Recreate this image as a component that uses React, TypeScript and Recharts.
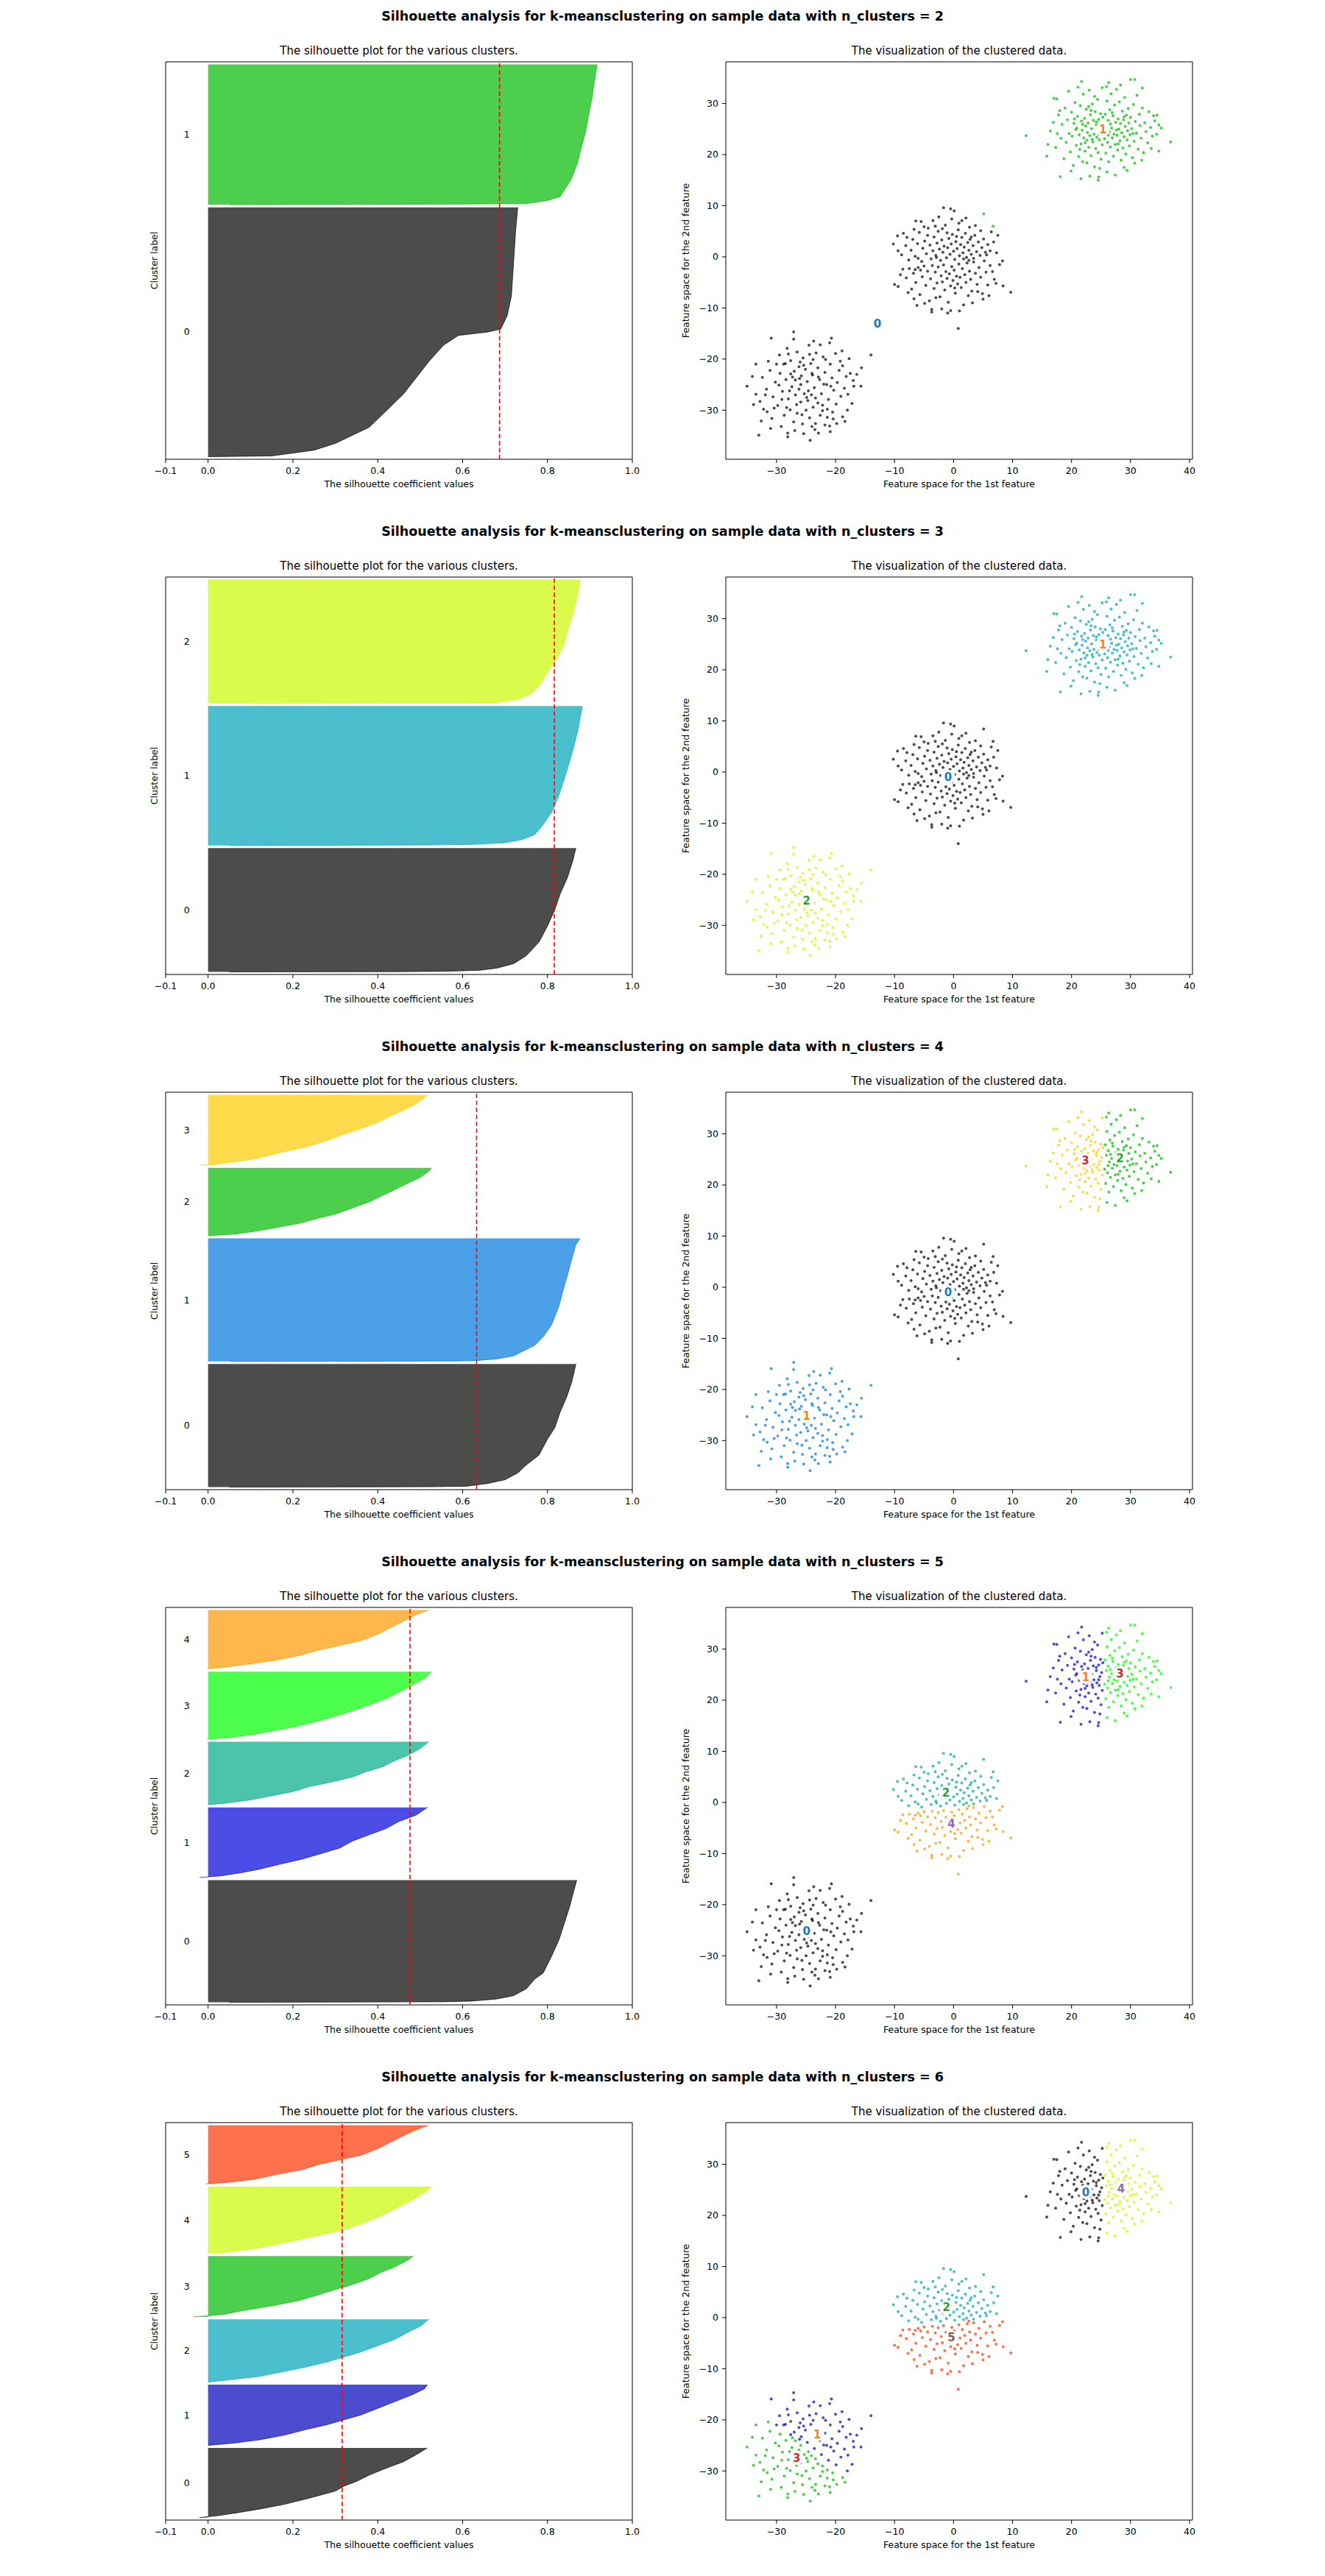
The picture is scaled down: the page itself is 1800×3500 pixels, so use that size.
import React from 'react';
import {
  ComposedChart, Area, XAxis, YAxis, ReferenceLine, ReferenceArea, ReferenceDot,
  ScatterChart, Scatter,
} from 'recharts';

const FONT = '"DejaVu Sans", sans-serif';

// ---- sample points (x, y pairs), split where the k-means runs cut the blobs ----
// upper-right blob, left half
const tlPts = [
  12.3, 23.7, 15.8, 19.7, 16.0, 22.0, 17.0, 31.0, 17.5, 30.9, 18.1, 15.7, 21.6, 15.3, 23.1, 15.8, 24.5, 15.0, 21.7, 34.3, 24.6, 15.6,
  16.4, 24.6, 16.9, 26.3, 17.3, 21.4, 17.8, 27.8, 18.2, 23.2, 18.4, 25.9, 18.7, 19.2, 18.9, 29.1, 19.1, 22.4, 19.3, 26.8,
  19.6, 24.1, 19.8, 20.5, 20.0, 28.3, 20.1, 23.6, 20.3, 17.9, 20.4, 26.1, 20.6, 30.2, 20.8, 21.8, 20.9, 25.2, 21.0, 27.5,
  21.2, 19.6, 21.3, 23.9, 21.5, 29.6, 21.6, 22.1, 21.7, 26.6, 21.8, 24.8, 21.9, 18.6, 22.0, 31.8, 22.1, 23.3, 22.2, 27.1,
  22.3, 20.7, 22.4, 25.6, 22.5, 28.9, 22.6, 22.8, 22.7, 24.3, 22.8, 26.2, 22.9, 21.4, 23.0, 32.6, 23.1, 23.7, 23.2, 27.8,
  23.3, 19.8, 23.4, 25.1, 23.5, 29.9, 23.6, 22.5, 23.7, 26.7, 23.8, 24.0, 23.9, 17.6, 24.0, 28.4, 24.1, 21.2, 24.2, 25.8,
  24.3, 23.4, 24.4, 30.8, 24.5, 20.4, 24.6, 26.9, 24.7, 22.9, 24.8, 24.6, 24.9, 28.0, 25.0, 19.1, 25.1, 25.4, 25.2, 33.1,
  25.2, 21.9, 25.3, 27.3, 19.5, 32.4, 18.0, 28.6, 20.7, 24.9, 21.4, 21.0, 22.6, 18.4, 23.9, 31.4, 24.8, 17.3, 21.1, 33.2,
  19.9, 16.8, 17.6, 24.1, 22.9, 29.4, 23.5, 23.0, 24.2, 26.4, 21.9, 25.9, 22.3, 22.3, 20.5, 27.0, 24.6, 24.0, 23.3, 28.6,
];
// upper-right blob, right half
const trPts = [
  36.8, 22.5, 34.8, 25.8, 34.8, 20.7, 30.0, 34.7, 30.7, 34.7, 26.3, 34.1, 32.0, 33.0, 33.9, 27.6, 34.5, 27.7, 33.5, 21.2, 28.9, 17.5, 30.7, 18.3,
  25.6, 23.1, 25.7, 27.9, 25.8, 20.3, 25.9, 25.8, 26.0, 30.5, 26.1, 22.4, 26.2, 26.7, 26.3, 18.6, 26.4, 24.5, 26.5, 28.8,
  26.6, 21.5, 26.7, 31.9, 26.8, 25.2, 26.9, 23.3, 27.0, 27.6, 27.1, 19.7, 27.2, 24.0, 27.3, 29.7, 27.4, 22.0, 27.5, 26.3,
  27.6, 32.8, 27.7, 23.8, 27.8, 20.9, 27.9, 27.0, 28.0, 25.0, 28.1, 30.3, 28.2, 22.7, 28.3, 26.1, 28.4, 18.9, 28.5, 24.3,
  28.6, 28.5, 28.7, 21.3, 28.8, 26.8, 28.9, 23.5, 29.0, 31.2, 29.1, 25.5, 29.2, 20.1, 29.3, 27.7, 29.4, 22.9, 29.5, 24.7,
  29.6, 29.0, 29.7, 26.2, 29.8, 21.7, 29.9, 23.9, 30.0, 27.3, 30.2, 25.1, 30.3, 19.4, 30.5, 29.8, 30.6, 22.6, 30.8, 26.5,
  31.0, 24.2, 31.1, 31.6, 31.3, 21.1, 31.5, 27.9, 31.6, 25.7, 31.8, 23.2, 32.0, 29.1, 32.2, 20.4, 32.4, 26.2, 32.6, 24.5,
  32.9, 22.3, 33.1, 28.4, 33.4, 25.3, 33.7, 23.6, 34.1, 26.6, 34.4, 24.0, 35.2, 25.2, 26.0, 16.6, 27.4, 16.0, 25.9, 33.3,
  28.3, 33.6, 29.4, 16.9, 31.9, 18.9, 27.6, 24.8, 26.6, 26.0, 28.9, 27.4, 26.2, 23.8, 27.9, 22.1, 30.4, 24.1, 26.9, 28.2,
];
// middle blob, upper part
const mtPts = [
  -1.7, 9.6, -0.5, 9.4, 0.1, 9.0, 6.4, 4.9, 7.5, 4.2, 3.7, 6.1, -10.2, 2.5, -9.5, 4.1, -8.5, 4.6, -6.4, 7.0, -5.5, 6.9, -3.5, 7.1, -2.5, 7.8, 1.4, 7.1,
  -8.8, 0.4, -8.1, 2.2, -7.6, -0.6, -7.2, 1.3, -6.9, 3.4, -6.5, 0.1, -6.1, 2.6, -5.8, 4.8, -5.4, -0.9, -5.2, 1.7,
  -4.9, 3.1, -4.6, 0.6, -4.3, 5.6, -4.0, 2.3, -3.8, -0.4, -3.5, 1.2, -3.3, 3.9, -3.0, 0.3, -2.8, 2.7, -2.6, 5.0,
  -2.4, 1.5, -2.2, -0.7, -2.0, 3.3, -1.8, 0.9, -1.6, 2.1, -1.4, 6.2, -1.2, -0.2, -1.0, 1.8, -0.8, 3.6, -0.6, 0.5,
  -0.4, 2.5, -0.2, 4.4, 0.0, 1.1, 0.2, -0.5, 0.4, 3.0, 0.6, 1.6, 0.8, 5.3, 1.0, 0.2, 1.2, 2.4, 1.4, 3.8,
  1.6, 0.8, 1.8, 1.9, 2.0, 4.6, 2.2, -0.1, 2.4, 2.8, 2.6, 1.3, 2.8, 3.4, 3.0, 0.5, 3.3, 2.2, 3.6, 4.2,
  3.9, 1.0, 4.2, 2.9, 4.5, 0.3, 4.8, 1.8, 5.1, 3.5, 5.4, 0.9, 5.8, 2.4, 6.2, 1.2, 6.8, 2.9, 7.3, 0.8,
  -7.9, 3.8, -3.1, 6.0, 0.9, 6.6, 2.7, 5.8, 4.6, 5.1, -6.0, -0.3, -1.1, 4.7, 1.7, -0.4, -4.4, 4.2, 5.6, 0.4,
  -9.4, 1.2, -2.9, -0.1, 3.4, -0.3, -0.3, 7.4, 2.1, 7.6, -5.0, 5.9, 0.5, 4.0, -1.9, 5.5, 3.0, 3.9, -6.7, 5.4,
];
// middle blob, lower part
const mbPts = [
  8.3, -0.8, 9.7, -6.9, 8.4, -5.7, 6.9, -4.4, 0.8, -14.0, -3.7, -10.8, -3.7, -10.3, -0.5, -10.5, -6.2, -9.5, -6.7, -8.2, -10.0, -5.4, -9.4, -5.8,
  -8.6, -2.4, -8.0, -4.1, -7.5, -2.3, -7.1, -6.3, -6.8, -3.2, -6.4, -5.0, -6.0, -2.1, -5.7, -7.4, -5.3, -3.9, -5.0, -1.8,
  -4.7, -5.6, -4.4, -2.8, -4.1, -8.6, -3.9, -4.3, -3.6, -1.7, -3.3, -6.2, -3.1, -3.0, -2.8, -5.1, -2.6, -2.0, -2.3, -7.8,
  -2.1, -3.7, -1.9, -4.9, -1.7, -1.6, -1.5, -6.5, -1.3, -2.9, -1.1, -4.2, -0.9, -8.9, -0.7, -3.3, -0.5, -5.7, -0.3, -1.9,
  -0.1, -4.6, 0.1, -2.6, 0.3, -7.1, 0.5, -3.8, 0.7, -5.3, 0.9, -1.4, 1.1, -4.0, 1.3, -6.0, 1.5, -2.3, 1.7, -9.4,
  1.9, -3.5, 2.1, -5.0, 2.3, -1.2, 2.5, -7.6, 2.7, -2.8, 2.9, -4.4, 3.1, -6.7, 3.4, -1.0, 3.7, -3.2, 4.0, -5.4,
  4.3, -2.1, 4.6, -4.0, 4.9, -7.2, 5.2, -0.8, 5.5, -3.0, 5.8, -5.5, 6.2, -1.7, 6.6, -2.9, 7.2, -5.2, 7.8, -1.5,
  -7.7, -7.0, -4.9, -9.1, -2.0, -10.2, 1.0, -10.6, 3.2, -9.0, -9.0, -3.5, 5.0, -8.3, 2.6, -0.7, -6.5, -2.5, 0.2, -6.1,
  -1.0, -11.0, 4.1, -6.8, -3.0, -8.0, 6.0, -7.6, -5.6, -2.6,
];
// two far points of the middle blob (taken by the upper cluster when k = 2)
const mxPts = [5.1, 8.4, 6.7, 6.0];
// lower-left blob, upper-right part
const buPts = [
  -27.1, -14.7, -27.1, -16.1, -30.9, -15.9, -20.7, -15.9, -14.0, -19.2, -15.6, -21.7, -15.7, -25.3, -16.9, -25.3, -17.2, -28.7, -17.7, -19.9, -18.9, -18.4,
  -29.5, -19.2, -28.8, -21.0, -28.2, -17.9, -27.6, -20.3, -27.0, -22.4, -26.5, -18.6, -26.2, -21.5, -25.8, -23.3, -25.5, -19.8, -25.1, -22.0,
  -24.8, -24.4, -24.5, -17.3, -24.2, -20.9, -23.9, -23.1, -23.6, -25.6, -23.3, -18.8, -23.0, -21.7, -22.7, -24.0, -22.4, -26.8, -22.1, -19.6,
  -21.8, -22.6, -21.5, -25.0, -21.2, -27.9, -20.9, -21.0, -20.6, -23.7, -20.3, -26.1, -20.0, -18.9, -19.7, -24.6, -19.4, -22.2, -19.1, -27.3,
  -18.8, -21.3, -18.5, -25.7, -18.2, -23.4, -17.9, -26.9, -17.5, -22.8, -17.0, -24.2, -16.4, -23.0, -23.7, -16.5, -22.6, -17.2, -21.0, -16.8,
  -24.0, -22.8, -22.9, -23.5, -23.8, -20.1, -25.4, -21.2, -26.0, -20.6, -28.0, -19.0, -22.0, -24.9, -20.8, -25.3, -19.9, -28.8, -24.4, -19.1,
  -21.7, -20.1, -19.2, -20.4, -18.0, -30.0, -30.0, -21.0, -28.5, -20.9, -27.6, -22.9, -26.1, -23.8,
];
// lower-left blob, lower-left part
const bdPts = [
  -35.0, -25.3, -33.0, -34.9, -28.1, -35.2, -28.1, -34.5, -24.3, -35.9, -31.0, -33.6, -23.5, -33.8, -18.4, -32.2, -18.8, -31.3, -33.5, -26.9, -33.5, -21.0, -32.2, -29.8, -31.6, -30.3,
  -26.8, -24.1, -25.9, -25.0, -24.6, -26.2, -23.4, -27.6, -22.2, -29.0, -21.4, -29.8, -20.5, -30.4,
  -32.4, -23.6, -31.7, -25.9, -31.1, -22.2, -30.6, -27.4, -30.2, -24.5, -29.8, -29.1, -29.4, -22.8, -29.0, -26.3, -28.7, -31.0, -28.4, -24.0,
  -28.0, -27.8, -27.7, -29.9, -27.4, -25.4, -27.1, -32.3, -26.8, -27.0, -26.5, -30.6, -26.2, -25.9, -25.9, -28.4, -25.6, -32.7, -25.3, -26.8,
  -25.0, -30.0, -24.7, -28.1, -24.4, -31.5, -24.1, -27.0, -23.8, -29.4, -23.4, -32.6, -23.0, -28.6, -22.6, -31.0, -22.2, -30.1, -21.8, -32.9,
  -21.4, -31.4, -21.0, -33.1, -20.4, -31.7, -19.8, -32.6, -32.8, -28.3, -31.4, -20.4, -29.2, -33.2, -26.9, -34.0,
  -30.8, -31.6, -29.6, -25.1, -27.3, -23.5, -25.4, -34.6, -24.0, -33.2, -22.9, -34.5, -20.9, -34.2, -34.1, -23.4,
  -33.9, -28.9, -32.6, -32.1, -31.9, -27.0, -30.4, -29.6, -29.1, -27.9, -28.3, -29.5, -27.8, -26.2, -26.6, -28.9, -25.7, -30.9, -24.9, -27.5,
];

const blobs = [tlPts, trPts, mtPts, mbPts, mxPts, buPts, bdPts];

// cluster label of each blob part, per run
const labelsK2 = [1, 1, 0, 0, 1, 0, 0];
const labelsK3 = [1, 1, 0, 0, 0, 2, 2];
const labelsK4 = [3, 2, 0, 0, 0, 1, 1];
const labelsK5 = [1, 3, 2, 4, 2, 0, 0];
const labelsK6 = [0, 4, 2, 5, 2, 1, 3];

// cluster centres
const centersK2 = [[-12.9, -13.05], [25.3, 25.0]];
const centersK3 = [[-0.93, -0.96], [25.3, 25.0], [-24.9, -25.1]];
const centersK4 = [[-0.93, -0.96], [-24.9, -25.1], [28.2, 25.3], [22.35, 24.8]];
const centersK5 = [[-24.9, -25.1], [22.4, 24.6], [-1.3, 1.9], [28.2, 25.3], [-0.36, -4.1]];
const centersK6 = [[22.4, 24.6], [-23.1, -22.8], [-1.2, 2.0], [-26.6, -27.4], [28.4, 25.3], [-0.36, -3.9]];

// silhouette: cluster sizes, average score, sorted values as [fraction of cluster, value]
const sizesK2 = [960, 540];
const sizesK3 = [480, 540, 480];
const sizesK4 = [480, 480, 265, 275];
const sizesK5 = [480, 275, 248, 265, 232];
const sizesK6 = [275, 240, 248, 240, 265, 232];
const avgScores = [0.687, 0.816, 0.633, 0.476, 0.316];

const silK2 = [
  [[0, 0.0], [0.003, 0.15], [0.026, 0.25], [0.053, 0.3], [0.118, 0.38], [0.184, 0.42], [0.25, 0.46], [0.315, 0.49], [0.381, 0.52], [0.447, 0.555], [0.486, 0.59], [0.5, 0.66], [0.512, 0.69], [0.565, 0.705], [0.644, 0.715], [0.775, 0.72], [0.907, 0.725], [1, 0.73]],
  [[0, 0.05], [0.004, 0.6], [0.008, 0.75], [0.016, 0.77], [0.03, 0.8], [0.058, 0.83], [0.105, 0.84], [0.175, 0.855], [0.29, 0.87], [0.41, 0.88], [0.52, 0.89], [0.64, 0.897], [0.76, 0.905], [0.87, 0.91], [1, 0.917]],
];
const silK3 = [
  [[0, 0.05], [0.002, 0.45], [0.005, 0.56], [0.013, 0.64], [0.03, 0.68], [0.066, 0.72], [0.13, 0.75], [0.24, 0.78], [0.37, 0.8], [0.5, 0.817], [0.63, 0.83], [0.76, 0.847], [0.9, 0.86], [1, 0.867]],
  [[0, 0.05], [0.003, 0.52], [0.007, 0.62], [0.019, 0.7], [0.042, 0.74], [0.078, 0.77], [0.15, 0.79], [0.24, 0.81], [0.36, 0.827], [0.48, 0.84], [0.6, 0.852], [0.71, 0.862], [0.83, 0.872], [1, 0.882]],
  [[0, 0.1], [0.003, 0.62], [0.008, 0.68], [0.034, 0.73], [0.074, 0.76], [0.14, 0.78], [0.25, 0.8], [0.35, 0.82], [0.46, 0.837], [0.59, 0.847], [0.72, 0.86], [0.86, 0.87], [1, 0.877]],
];
const silK4 = [
  [[0, 0.05], [0.003, 0.52], [0.007, 0.61], [0.03, 0.66], [0.06, 0.7], [0.115, 0.73], [0.18, 0.75], [0.26, 0.78], [0.39, 0.8], [0.48, 0.817], [0.61, 0.83], [0.73, 0.845], [0.85, 0.857], [1, 0.867]],
  [[0, 0.05], [0.003, 0.58], [0.007, 0.63], [0.02, 0.68], [0.045, 0.72], [0.08, 0.74], [0.13, 0.77], [0.2, 0.79], [0.3, 0.81], [0.45, 0.827], [0.58, 0.837], [0.7, 0.847], [0.83, 0.857], [0.95, 0.867], [1, 0.877]],
  [[0, 0.0], [0.009, 0.02], [0.03, 0.07], [0.076, 0.12], [0.12, 0.16], [0.19, 0.22], [0.26, 0.26], [0.32, 0.3], [0.41, 0.34], [0.5, 0.38], [0.59, 0.41], [0.68, 0.44], [0.77, 0.47], [0.86, 0.5], [0.95, 0.52], [1, 0.527]],
  [[0, -0.02], [0.013, 0.02], [0.048, 0.06], [0.09, 0.11], [0.18, 0.17], [0.26, 0.23], [0.35, 0.28], [0.44, 0.32], [0.52, 0.36], [0.61, 0.4], [0.7, 0.43], [0.78, 0.46], [0.87, 0.49], [0.96, 0.51], [1, 0.517]],
];
const silK5 = [
  [[0, 0.05], [0.004, 0.55], [0.01, 0.62], [0.027, 0.68], [0.054, 0.72], [0.11, 0.75], [0.19, 0.77], [0.24, 0.79], [0.38, 0.81], [0.51, 0.827], [0.65, 0.84], [0.78, 0.852], [0.91, 0.862], [1, 0.869]],
  [[0, -0.02], [0.023, 0.03], [0.07, 0.08], [0.117, 0.12], [0.19, 0.17], [0.26, 0.22], [0.33, 0.26], [0.42, 0.31], [0.52, 0.34], [0.61, 0.38], [0.7, 0.42], [0.8, 0.45], [0.89, 0.49], [1, 0.517]],
  [[0, 0.0], [0.026, 0.04], [0.078, 0.1], [0.13, 0.14], [0.21, 0.2], [0.29, 0.24], [0.36, 0.29], [0.44, 0.34], [0.52, 0.37], [0.6, 0.41], [0.7, 0.44], [0.78, 0.47], [0.89, 0.5], [1, 0.52]],
  [[0, -0.003], [0.024, 0.05], [0.073, 0.11], [0.12, 0.15], [0.19, 0.21], [0.27, 0.26], [0.36, 0.31], [0.44, 0.35], [0.53, 0.39], [0.63, 0.43], [0.73, 0.46], [0.83, 0.49], [0.92, 0.515], [1, 0.527]],
  [[0, -0.003], [0.033, 0.04], [0.088, 0.1], [0.15, 0.16], [0.24, 0.22], [0.32, 0.26], [0.4, 0.31], [0.48, 0.36], [0.59, 0.4], [0.7, 0.43], [0.81, 0.46], [0.92, 0.49], [1, 0.52]],
];
const silK6 = [
  [[0, -0.02], [0.024, 0.02], [0.07, 0.07], [0.12, 0.12], [0.19, 0.18], [0.28, 0.24], [0.38, 0.3], [0.45, 0.32], [0.52, 0.35], [0.61, 0.38], [0.71, 0.42], [0.8, 0.46], [0.9, 0.49], [1, 0.517]],
  [[0, 0.0], [0.038, 0.06], [0.09, 0.12], [0.17, 0.18], [0.26, 0.23], [0.34, 0.28], [0.42, 0.32], [0.5, 0.36], [0.61, 0.4], [0.72, 0.44], [0.83, 0.48], [0.93, 0.51], [1, 0.517]],
  [[0, 0.0], [0.036, 0.05], [0.09, 0.12], [0.17, 0.18], [0.24, 0.23], [0.32, 0.28], [0.4, 0.32], [0.48, 0.36], [0.58, 0.4], [0.68, 0.44], [0.79, 0.47], [0.89, 0.5], [1, 0.52]],
  [[0, -0.035], [0.016, 0.0], [0.043, 0.04], [0.1, 0.08], [0.18, 0.15], [0.26, 0.21], [0.34, 0.25], [0.45, 0.3], [0.53, 0.34], [0.63, 0.38], [0.74, 0.41], [0.82, 0.44], [0.93, 0.47], [1, 0.484]],
  [[0, -0.005], [0.024, 0.05], [0.073, 0.11], [0.12, 0.15], [0.2, 0.21], [0.27, 0.26], [0.34, 0.31], [0.44, 0.36], [0.54, 0.4], [0.63, 0.43], [0.73, 0.46], [0.83, 0.49], [0.93, 0.515], [1, 0.527]],
  [[0, -0.005], [0.027, 0.05], [0.08, 0.11], [0.16, 0.16], [0.24, 0.22], [0.33, 0.26], [0.41, 0.31], [0.49, 0.36], [0.6, 0.4], [0.71, 0.43], [0.82, 0.46], [0.92, 0.49], [1, 0.52]],
];

// nipy_spectral colours for each run
const colorsK2 = ['#000000', '#00bb00'];
const colorsK3 = ['#000000', '#00a4bb', '#ccf900'];
const colorsK4 = ['#000000', '#0077dd', '#00bb00', '#ffcc00'];
const colorsK5 = ['#000000', '#0000dd', '#00aa88', '#00ff00', '#ff9900'];
const colorsK6 = ['#000000', '#0000bb', '#00a4bb', '#00bb00', '#ccf900', '#ff3300'];
const tab10 = ['#1f77b4', '#ff7f0e', '#2ca02c', '#d62728', '#9467bd', '#8c564b'];

const silTicks = [-0.1, 0, 0.2, 0.4, 0.6, 0.8, 1.0];
const featXTicks = [-30, -20, -10, 0, 10, 20, 30, 40];
const featYTicks = [-30, -20, -10, 0, 10, 20, 30];

const runs = [
  { k: 2, sizes: sizesK2, sil: silK2, colors: colorsK2, labels: labelsK2, centers: centersK2 },
  { k: 3, sizes: sizesK3, sil: silK3, colors: colorsK3, labels: labelsK3, centers: centersK3 },
  { k: 4, sizes: sizesK4, sil: silK4, colors: colorsK4, labels: labelsK4, centers: centersK4 },
  { k: 5, sizes: sizesK5, sil: silK5, colors: colorsK5, labels: labelsK5, centers: centersK5 },
  { k: 6, sizes: sizesK6, sil: silK6, colors: colorsK6, labels: labelsK6, centers: centersK6 },
];

const minus = (s: string) => s.replace('-', '\u2212');
const tickStyle = { fill: '#000', fontSize: 12.5, fontFamily: FONT };

function toPoints(flat: number[]) {
  const out: { x: number; y: number }[] = [];
  for (let i = 0; i < flat.length; i += 2) out.push({ x: flat[i], y: flat[i + 1] });
  return out;
}

function Txt({ x, y, size, bold, rotate, children }: any) {
  return (
    <div
      style={{
        position: 'absolute', left: x, top: y, fontSize: size, lineHeight: 1,
        fontWeight: bold ? 'bold' : 'normal', whiteSpace: 'nowrap', color: '#000',
        transform: `translate(-50%, -50%)${rotate ? ' rotate(-90deg)' : ''}`,
      }}
    >
      {children}
    </div>
  );
}

function SilhouettePlot({ sizes, sil, colors, avg }: any) {
  const rows: any[] = [];
  const mids: number[] = [];
  let yLower = 10;
  sizes.forEach((size: number, i: number) => {
    sil[i].forEach(([f, v]: number[]) => rows.push({ y: yLower + f * size, ['c' + i]: v }));
    mids.push(yLower + size / 2);
    yLower += size + 10;
  });
  const top = sizes.reduce((a: number, b: number) => a + b, 0) + (sizes.length + 1) * 10;

  return (
    <ComposedChart
      width={900} height={700} data={rows} layout="vertical"
      margin={{ top: 84, right: 41, bottom: 46, left: 225 }}
    >
      <XAxis
        type="number" domain={[-0.1, 1]} ticks={silTicks} allowDataOverflow
        tickFormatter={(v: number) => minus(v.toFixed(1))}
        axisLine={false} tickLine={{ stroke: '#000' }} tickSize={5} tickMargin={6}
        tick={tickStyle} height={30} interval={0}
      />
      {/* vertical layout puts 0 at the top, so flip to keep cluster 0 at the bottom */}
      <YAxis type="number" dataKey="y" domain={[0, top]} allowDataOverflow hide width={0} reversed />
      {sizes.map((_: number, i: number) => (
        <Area
          key={i} type="linear" dataKey={'c' + i} fill={colors[i]} fillOpacity={0.7}
          stroke={colors[i]} strokeOpacity={0.7} strokeWidth={1}
          dot={false} activeDot={false} isAnimationActive={false}
        />
      ))}
      {mids.map((m, i) => (
        <ReferenceDot
          key={'l' + i} x={-0.05} y={m} r={0} fill="none" stroke="none"
          label={{ value: String(i), position: 'center', fill: '#000', fontSize: 12.5, fontFamily: FONT }}
        />
      ))}
      <ReferenceLine x={avg} stroke="#ff0000" strokeWidth={1.6} strokeDasharray="6 3.5" />
      <ReferenceArea x1={-0.1} x2={1} y1={0} y2={top} fill="none" stroke="#000" strokeWidth={1} />
    </ComposedChart>
  );
}

function ClusterPlot({ labels, colors, centers }: any) {
  const centerData = centers.map((c: number[], i: number) => ({ x: c[0], y: c[1], k: i }));
  return (
    <ScatterChart width={900} height={700} margin={{ top: 84, right: 180, bottom: 46, left: 46 }}>
      <XAxis
        type="number" dataKey="x" domain={[-38.6, 40.5]} ticks={featXTicks} allowDataOverflow
        tickFormatter={(v: number) => minus(String(v))} interval={0}
        axisLine={false} tickLine={{ stroke: '#000' }} tickSize={5} tickMargin={6}
        tick={tickStyle} height={30}
      />
      <YAxis
        type="number" dataKey="y" domain={[-39.6, 38.15]} ticks={featYTicks} allowDataOverflow
        tickFormatter={(v: number) => minus(String(v))} interval={0}
        axisLine={false} tickLine={{ stroke: '#000' }} tickSize={5} tickMargin={5}
        tick={tickStyle} width={40}
      />
      {blobs.map((flat, b) => {
        const col = colors[labels[b]];
        return (
          <Scatter
            key={b} data={toPoints(flat)} fill={col} isAnimationActive={false}
            shape={(p: any) => <circle cx={p.cx} cy={p.cy} r={2} fill={col} fillOpacity={0.7} />}
          />
        );
      })}
      <Scatter
        data={centerData} fill="#fff" isAnimationActive={false}
        shape={(p: any) => (
          <g>
            <circle cx={p.cx} cy={p.cy} r={9.8} fill="#fff" />
            <text
              x={p.cx} y={p.cy} dy="0.36em" textAnchor="middle" fontSize={15}
              fontWeight="bold" fontFamily={FONT} fill={tab10[p.payload.k]}
            >
              {p.payload.k}
            </text>
          </g>
        )}
      />
      <ReferenceArea x1={-38.6} x2={40.5} y1={-39.6} y2={38.15} fill="none" stroke="#000" strokeWidth={1} />
    </ScatterChart>
  );
}

export default function App() {
  return (
    <div
      style={{
        position: 'absolute', left: 0, top: 0, width: 1800, height: 3500,
        background: '#fff', fontFamily: FONT,
      }}
    >
      {runs.map((r, idx) => (
        <div key={r.k} style={{ position: 'absolute', left: 0, top: idx * 700, width: 1800, height: 700 }}>
          <Txt x={900} y={22.5} size={17.5} bold>
            {`Silhouette analysis for k-meansclustering on sample data with n_clusters = ${r.k}`}
          </Txt>
          <div style={{ position: 'absolute', left: 0, top: 0 }}>
            <SilhouettePlot sizes={r.sizes} sil={r.sil} colors={r.colors} avg={avgScores[idx]} />
          </div>
          <div style={{ position: 'absolute', left: 900, top: 0 }}>
            <ClusterPlot labels={r.labels} colors={r.colors} centers={r.centers} />
          </div>
          <Txt x={542} y={69} size={15}>The silhouette plot for the various clusters.</Txt>
          <Txt x={1303} y={69} size={15}>The visualization of the clustered data.</Txt>
          <Txt x={542} y={657.5} size={12.5}>The silhouette coefficient values</Txt>
          <Txt x={1303} y={657.5} size={12.5}>Feature space for the 1st feature</Txt>
          <Txt x={210} y={354} size={12.5} rotate>Cluster label</Txt>
          <Txt x={931.5} y={354} size={12.5} rotate>Feature space for the 2nd feature</Txt>
        </div>
      ))}
    </div>
  );
}
